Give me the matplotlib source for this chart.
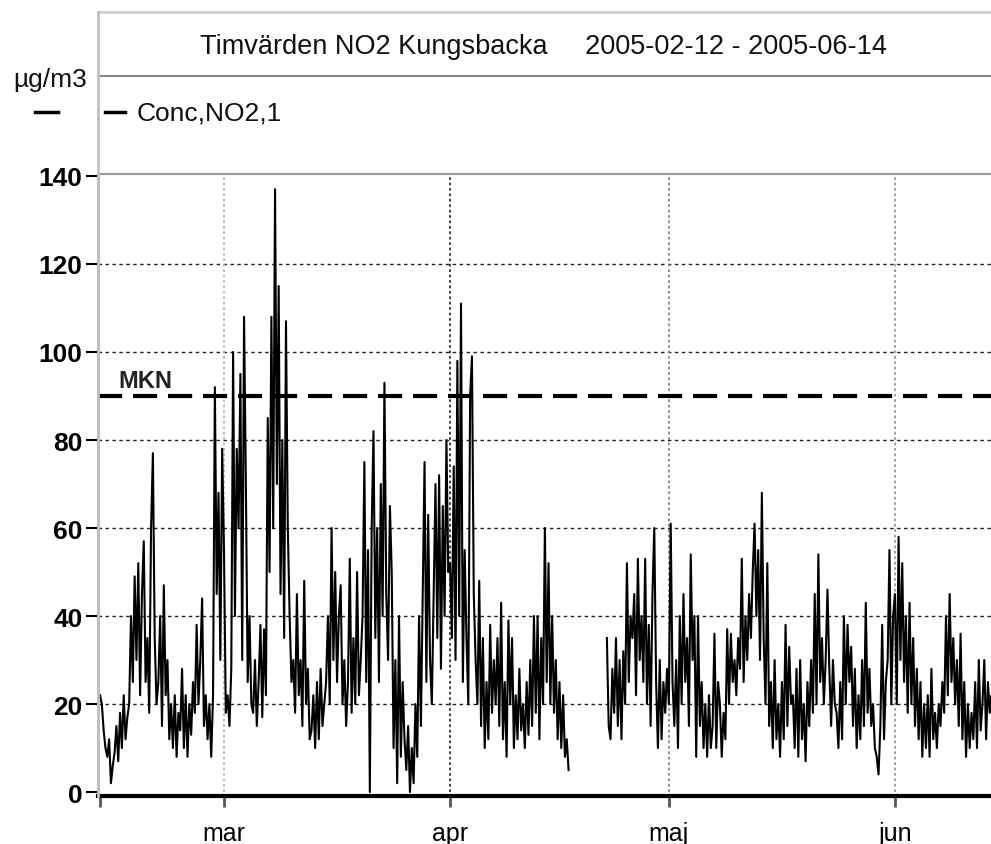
import numpy as np
import pandas as pd
import matplotlib
matplotlib.use("Agg")
import matplotlib.pyplot as plt

plt.rcParams["font.family"] = ["Liberation Sans", "DejaVu Sans"]

# hourly NO2, thinned to one value every 6 hours (00, 06, 12, 18)
start = "2005-02-12"

feb_no2 = [
    22, 20, 14, 10,
    8, 12, 2, 6,
    9, 15, 7, 18,
    10, 22, 12, 17,
    20, 40, 25, 49,
    30, 52, 22, 45,
    57, 25, 35, 18,
    60, 77, 35, 20,
    25, 40, 15, 47,
    22, 30, 12, 20,
    10, 22, 8, 18,
    14, 28, 10, 22,
    8, 20, 13, 25,
    18, 38, 20, 30,
    44, 15, 22, 12,
    20, 8, 22, 92,
    45, 68, 30, 78,
]

mar_no2 = [
    55, 18, 22, 15,
    28, 100, 40, 78,
    60, 95, 30, 108,
    70, 25, 40, 20,
    18, 30, 15, 25,
    38, 17, 37, 22,
    85, 50, 108, 60,
    137, 70, 115, 45,
    80, 35, 107, 60,
    40, 25, 30, 18,
    45, 22, 30, 15,
    48, 20, 28, 12,
    14, 22, 10, 25,
    12, 28, 15, 20,
    25, 40, 20, 60,
    30, 50, 25, 40,
    47, 20, 30, 15,
    25, 53, 18, 35,
    20, 50, 22, 30,
    40, 75, 25, 55,
    0, 60, 82, 35,
    60, 25, 70, 40,
    93, 45, 30, 65,
    50, 10, 30, 2,
    40, 8, 25, 12,
    5, 15, 0, 10,
    2, 20, 8, 40,
    15, 45, 75, 25,
    63, 30, 20, 45,
    70, 35, 72, 28,
    65, 40, 80, 50,
]

apr_no2 = [
    52, 35, 74, 30,
    98, 40, 111, 25,
    55, 35, 20, 90,
    99, 45, 30, 20,
    48, 15, 35, 10,
    25, 12, 38, 18,
    30, 20, 35, 15,
    43, 12, 25, 8,
    39, 20, 35, 10,
    22, 12, 28, 14,
    20, 10, 25, 13,
    30, 15, 40, 18,
    40, 12, 35, 20,
    60, 25, 52, 20,
    40, 18, 30, 12,
    25, 10, 22, 8,
    12, 5, None, None,
    None, None, None, None,
    None, None, None, None,
    None, None, None, None,
    None, None, None, None,
    None, None, 35, 15,
    12, 28, 18, 35,
    15, 30, 12, 32,
    20, 52, 25, 40,
    35, 45, 22, 53,
    30, 40, 25, 53,
    20, 38, 15, 45,
    60, 25, 10, 30,
    12, 25, 18, 28,
]

may_no2 = [
    20, 61, 25, 15,
    30, 10, 40, 20,
    45, 25, 35, 15,
    54, 30, 40, 8,
    40, 15, 25, 10,
    20, 8, 22, 10,
    15, 36, 10, 25,
    20, 8, 18, 12,
    37, 20, 36, 25,
    30, 22, 35, 28,
    53, 25, 40, 30,
    45, 35, 50, 61,
    40, 55, 30, 68,
    35, 20, 52, 15,
    25, 10, 30, 12,
    20, 8, 25, 12,
    38, 15, 33, 20,
    22, 10, 28, 8,
    30, 12, 20, 7,
    25, 15, 30, 18,
    45, 20, 54, 25,
    35, 20, 30, 46,
    28, 15, 30, 20,
    18, 10, 25, 12,
    40, 20, 38, 25,
    33, 15, 28, 10,
    22, 12, 30, 15,
    43, 18, 28, 15,
    20, 10, 8, 4,
    15, 38, 12, 25,
    30, 55, 20, 40,
]

jun_no2 = [
    45, 20, 58, 30,
    52, 25, 40, 18,
    43, 20, 35, 15,
    28, 12, 25, 8,
    20, 10, 22, 8,
    28, 12, 18, 10,
    20, 15, 25, 18,
    40, 22, 45, 25,
    35, 20, 30, 15,
    36, 12, 25, 8,
    20, 10, 18, 12,
    25, 10, 30, 14,
    20, 30, 12, 25,
    18, 22, 15, 20,
]

month_starts = ["2005-03-01", "2005-04-01", "2005-05-01", "2005-06-01"]
month_labels = ["mar", "apr", "maj", "jun"]
y_ticks = [0, 20, 40, 60, 80, 100, 120, 140]
mkn_level = 90

values = np.array(feb_no2 + mar_no2 + apr_no2 + may_no2 + jun_no2, dtype=float)
times = pd.date_range(start, periods=len(values), freq="6h")

W, H = 991, 845
fig = plt.figure(figsize=(W / 100, H / 100), dpi=100)
ax = fig.add_axes([98 / W, (H - 797) / H, (W - 98) / W, (797 - 175) / H])

t0 = pd.Timestamp(start)
ax.set_xlim(t0 - pd.Timedelta(hours=6.6), t0 + pd.Timedelta(days=122.17))
ax.set_ylim(-0.9, 140.45)

# grid
for v in y_ticks[1:-1]:
    ax.axhline(v, color="#222222", lw=1.0, ls=(0, (2.5, 2.5)), zorder=1)
grid_colors = ["#b8b8b8", "#333333", "#888888", "#999999"]
for m, c in zip(month_starts, grid_colors):
    ax.axvline(pd.Timestamp(m), ymin=0.006, color=c, lw=1.3, ls=(0, (1.5, 1.5)), zorder=1)

ax.plot(times, values, color="black", lw=1.5, zorder=2)

ax.axhline(mkn_level, color="black", lw=3.0, dashes=(5.8, 2.6), zorder=3)
ax.text((118 - 98) / (W - 98), mkn_level + 3.5, "MKN", transform=ax.get_yaxis_transform(),
        fontsize=17, fontweight="bold", ha="left", va="center", color="#222222")

# axes styling
ax.spines["right"].set_visible(False)
ax.spines["top"].set_color("#9a9a9a")
ax.spines["top"].set_linewidth(1.5)
ax.spines["left"].set_color("#b0b0b0")
ax.spines["left"].set_linewidth(2)
ax.spines["bottom"].set_color("black")
ax.spines["bottom"].set_linewidth(3)

ax.set_yticks(y_ticks)
ax.set_yticklabels([str(v) for v in y_ticks], fontsize=19, fontweight="bold")
ax.tick_params(axis="y", direction="out", length=9, width=1.5, color="black", pad=2)

xt = [t0] + [pd.Timestamp(m) for m in month_starts]
ax.set_xticks(xt)
ax.set_xticklabels([""] + month_labels, fontsize=18)
ax.tick_params(axis="x", direction="out", length=8, width=2, color="#555555", pad=10)

# header block
fig.add_artist(plt.Line2D([98 / W, 1], [1 - 13 / H, 1 - 13 / H], color="#d0d0d0", lw=2,
                          transform=fig.transFigure))
fig.add_artist(plt.Line2D([98 / W, 1], [1 - 77 / H, 1 - 77 / H], color="#8a8a80", lw=1.5,
                          transform=fig.transFigure))
fig.add_artist(plt.Line2D([98 / W, 98 / W], [1 - 13 / H, 1 - 797 / H], color="#c0c0c0", lw=2,
                          transform=fig.transFigure))

fig.text(543 / W, 1 - 47 / H, "Timvärden NO2 Kungsbacka     2005-02-12 - 2005-06-14",
         fontsize=19.5, ha="center", va="center", color="#111111")
fig.text(13 / W, 1 - 80 / H, "µg/m3", fontsize=19, ha="left", va="center", color="#111111")

# legend
fig.add_artist(plt.Line2D([35 / W, 58 / W], [1 - 113 / H, 1 - 113 / H], color="black", lw=2.5,
                          transform=fig.transFigure))
fig.add_artist(plt.Line2D([105 / W, 125 / W], [1 - 113 / H, 1 - 113 / H], color="black", lw=2.5,
                          transform=fig.transFigure))
fig.text(137 / W, 1 - 113 / H, "Conc,NO2,1", fontsize=19, ha="left", va="center", color="#111111")

fig.savefig("out.png", dpi=100)
